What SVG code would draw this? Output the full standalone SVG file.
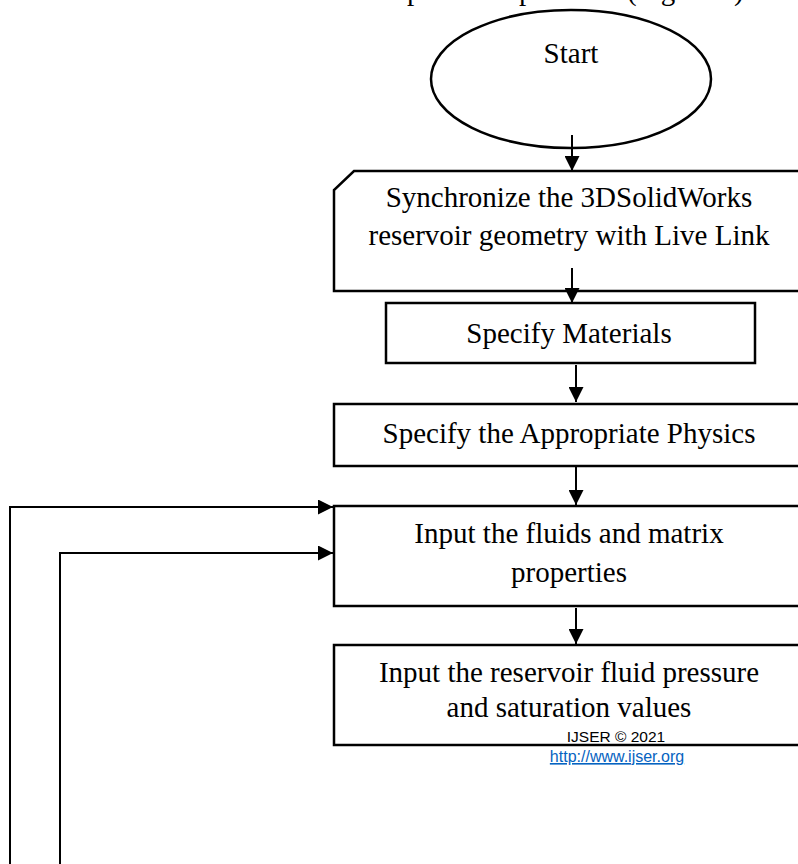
<svg xmlns="http://www.w3.org/2000/svg" width="798" height="864" viewBox="0 0 798 864">
<defs>
<style>
.shape{fill:#fff;stroke:#000;stroke-width:2.5}
.lbl{font-family:"Liberation Serif","Times New Roman",serif;font-size:29px;fill:#000;text-anchor:middle}
.conn{fill:none;stroke:#000;stroke-width:2}
.wm{font-family:"Liberation Sans",Arial,sans-serif;fill:#000}
</style>
<marker id="ah" markerUnits="userSpaceOnUse" markerWidth="15" markerHeight="15" refX="15" refY="7.5" orient="auto" viewBox="0 0 15 15">
<path d="M0,0 L15,7.5 L0,15 Z" fill="#000"/>
</marker>
</defs>
<rect width="798" height="864" fill="#fff"/>
<text class="lbl" style="text-anchor:start" y="-0.5"><tspan x="407">process</tspan><tspan x="519">pictured</tspan><tspan x="627">(Figure 2)</tspan></text>

<g id="start">
<ellipse class="shape" cx="571" cy="79" rx="140" ry="69" stroke-width="2"/>
<text class="lbl" x="571" y="63">Start</text>
</g>
<g id="sync">
<path class="shape" d="M354,171 H812 V291 H334 V190 Z"/>
<text class="lbl" x="569" y="207">Synchronize the 3DSolidWorks</text>
<text class="lbl" x="569" y="245">reservoir geometry with Live Link</text>
</g>
<g id="materials">
<rect class="shape" x="386" y="303" width="369" height="60"/>
<text class="lbl" x="569" y="343">Specify Materials</text>
</g>
<g id="physics">
<rect class="shape" x="334" y="404" width="480" height="62"/>
<text class="lbl" x="569" y="443">Specify the Appropriate Physics</text>
</g>
<g id="fluids">
<rect class="shape" x="334" y="506" width="480" height="100"/>
<text class="lbl" x="569" y="543">Input the fluids and matrix</text>
<text class="lbl" x="569" y="582">properties</text>
</g>
<g id="pressure">
<rect class="shape" x="334" y="645" width="480" height="100"/>
<text class="lbl" x="569" y="682">Input the reservoir fluid pressure</text>
<text class="lbl" x="569" y="717">and saturation values</text>
</g>
<g id="connectors">
<path class="conn" d="M572,135 V171" marker-end="url(#ah)"/>
<path class="conn" d="M572,268 V303" marker-end="url(#ah)"/>
<path class="conn" d="M576,365 V402" marker-end="url(#ah)"/>
<path class="conn" d="M576,467 V505" marker-end="url(#ah)"/>
<path class="conn" d="M576,608 V644" marker-end="url(#ah)"/>
<path class="conn" d="M10,864 V507 H333" marker-end="url(#ah)"/>
<path class="conn" d="M60,864 V553 H333" marker-end="url(#ah)"/>
</g>
<g id="footer">
<text class="wm" x="616" y="742" font-size="15.5" text-anchor="middle">IJSER © 2021</text>
<text class="wm" x="617" y="762" font-size="16" text-anchor="middle" style="fill:#0563C1;text-decoration:underline">http://www.ijser.org</text>
</g>
</svg>
